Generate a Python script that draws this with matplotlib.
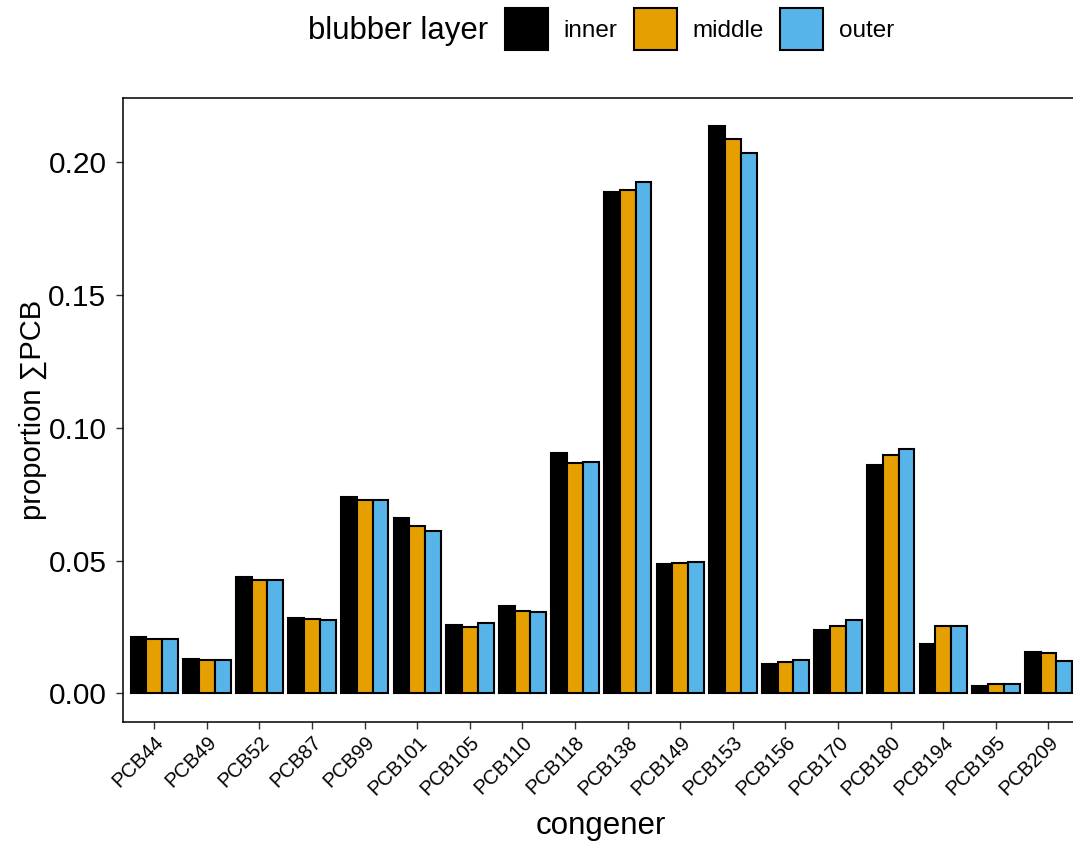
import matplotlib
matplotlib.use("Agg")
import matplotlib.pyplot as plt
import numpy as np
from matplotlib.patches import Patch

plt.rcParams['font.family'] = ['Liberation Sans', 'DejaVu Sans']

congeners = ["PCB44", "PCB49", "PCB52", "PCB87", "PCB99", "PCB101", "PCB105",
             "PCB110", "PCB118", "PCB138", "PCB149", "PCB153", "PCB156",
             "PCB170", "PCB180", "PCB194", "PCB195", "PCB209"]
layers = ["inner", "middle", "outer"]
inner = [0.0214, 0.0129, 0.0437, 0.0285, 0.0739, 0.0659, 0.0256, 0.0329, 0.0903,
         0.1887, 0.0488, 0.2136, 0.0112, 0.0239, 0.0858, 0.0187, 0.0028, 0.0157]
middle = [0.0204, 0.0125, 0.0427, 0.0279, 0.0727, 0.0629, 0.0250, 0.0312, 0.0867,
          0.1894, 0.0491, 0.2086, 0.0117, 0.0254, 0.0896, 0.0252, 0.0036, 0.0152]
outer = [0.0204, 0.0125, 0.0427, 0.0275, 0.0729, 0.0611, 0.0264, 0.0308, 0.0871,
         0.1925, 0.0494, 0.2032, 0.0125, 0.0275, 0.0920, 0.0252, 0.0036, 0.0124]
colors = ["#000000", "#E69F00", "#56B4E9"]
yticks = [0.00, 0.05, 0.10, 0.15, 0.20]
ytick_labels = ["0.00", "0.05", "0.10", "0.15", "0.20"]

W, H = 1073, 846
fig = plt.figure(figsize=(W / 100, H / 100), dpi=100)
left_px, right_px, top_px, bot_px = 122.7, 1080.0, 98.3, 721.7
ax = fig.add_axes([left_px / W, 1 - bot_px / H, (right_px - left_px) / W, (bot_px - top_px) / H])

x = np.arange(len(congeners))
bw = 0.3
for k, (vals, c) in enumerate(zip([inner, middle, outer], colors)):
    ax.bar(x + (k - 1) * bw, vals, width=bw, color=c, edgecolor="black",
           linewidth=1.5, zorder=2)

ax.set_xlim(-0.6, len(congeners) - 0.4)
ax.set_ylim(-0.01061, 0.22384)
ax.set_yticks(yticks)
ax.set_yticklabels(ytick_labels, fontsize=21.5, color="black")
ax.set_xticks(x)
ax.set_xticklabels(congeners, fontsize=14.5, rotation=45, ha="right", va="top",
                   rotation_mode="anchor", color="black")
ax.tick_params(axis="both", length=5, width=1.0, color="#333333")
ax.tick_params(axis="y", pad=6.7)
ax.tick_params(axis="x", pad=3)
for s in ax.spines.values():
    s.set_linewidth(1.1)
    s.set_color("black")

ax.set_ylabel("proportion \u2211PCB", fontsize=21)
ax.yaxis.set_label_coords(-(122.7 - 33) / (right_px - left_px), 0.5)
ax.yaxis.label.set_va("center")
fig.text(601 / W, 1 - 826 / H, "congener", fontsize=22.5, ha="center", va="center")

# legend
fig.text(308 / W, 1 - 39.5 / H, "blubber layer", fontsize=22.4, ha="left", va="baseline")
handles = [Patch(facecolor=c, edgecolor="black", linewidth=1.5, label=l)
           for c, l in zip(colors, layers)]
fig.legend(handles=handles, loc="center left", bbox_to_anchor=(505 / W, 1 - 29 / H),
           ncol=3, frameon=False, fontsize=17.5, handlelength=1.77, handleheight=2.34,
           handletextpad=0.62, columnspacing=0.7, borderpad=0, borderaxespad=0)

fig.savefig("out.png", dpi=100)
